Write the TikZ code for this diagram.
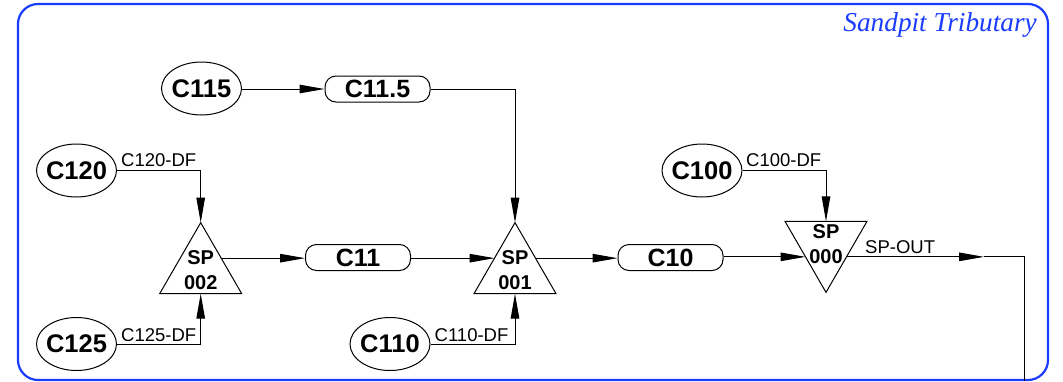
\documentclass[tikz,border=0pt]{standalone}
\usepackage{fontspec}
\setmainfont{Liberation Serif}
\newfontfamily\helv{Liberation Sans}
\usetikzlibrary{shapes.geometric,arrows.meta,calc}
\definecolor{frameblue}{RGB}{25,60,255}
\begin{document}
\begin{tikzpicture}[x=1pt,y=-1pt,
  basin/.style={ellipse,draw,line width=1pt,minimum width=80pt,minimum height=53pt,inner xsep=-8pt,inner ysep=0pt,font={\helv\bfseries\fontsize{25.5}{28}\selectfont}},
  reach/.style={rectangle,rounded corners=11pt,draw,line width=1pt,minimum width=105pt,minimum height=26pt,inner sep=0pt,font={\helv\bfseries\fontsize{25}{28}\selectfont}},
  junction/.style={regular polygon,regular polygon sides=3,draw,line width=1pt,minimum size=94.7pt,inner sep=0pt,outer sep=0pt},
  sptext/.style={align=center,inner sep=0pt,font={\helv\bfseries\fontsize{20}{25}\selectfont}},
  lbl/.style={inner sep=0pt,anchor=base west,font={\helv\fontsize{18.5}{20}\selectfont}},
  flow/.style={line width=1pt,-{Triangle[length=25pt,width=8.5pt]}},
  link/.style={line width=1pt},
]
\useasboundingbox (0,0) rectangle (1063,381);
% frame and title
\draw[frameblue,line width=2.2pt,rounded corners=20pt] (18,4) rectangle (1048,380);
\node[anchor=base east,inner sep=0pt,text=frameblue,font={\itshape\fontsize{27.3}{30}\selectfont}] (title) at (1037,31.7) {Sandpit Tributary};

% basins
\node[basin] (c115) at (201.5,88.5) {C115};
\node[basin] (c120) at (76.5,170.5) {C120};
\node[basin] (c125) at (76.5,344) {C125};
\node[basin] (c110) at (390,344) {C110};
\node[basin] (c100) at (702,170.5) {C100};

% reaches
\node[reach] (c115r) at (377.5,89) {C11.5};
\node[reach] (c11) at (358,257.5) {C11};
\node[reach] (c10) at (670.5,257.5) {C10};

% junctions
\node[junction] (sp002) at (200.7,270) {};
\node[junction] (sp001) at (515,270) {};
\node[junction,shape border rotate=180] (sp000) at (826,245) {};
\node[sptext] (sp002t) at (sp002) {SP\\002};
\node[sptext] (sp001t) at (sp001) {SP\\001};
\node[sptext] (sp000t) at ($(sp000)+(0,-1)$) {SP\\000};

% edge points of the triangles
\coordinate (sp002top) at (sp002.corner 1);
\coordinate (sp002bot) at ($(sp002.corner 2)!.5!(sp002.corner 3)$);
\coordinate (sp002r) at ($(sp002.corner 1)!.5!(sp002.corner 3)$);
\coordinate (sp001top) at (sp001.corner 1);
\coordinate (sp001bot) at ($(sp001.corner 2)!.5!(sp001.corner 3)$);
\coordinate (sp001l) at ($(sp001.corner 1)!.5!(sp001.corner 2)$);
\coordinate (sp001r) at ($(sp001.corner 1)!.5!(sp001.corner 3)$);
\coordinate (sp000top) at ($(sp000.corner 2)!.5!(sp000.corner 3)$);
\coordinate (sp000l) at ($(sp000.corner 1)!.5!(sp000.corner 3)$);
\coordinate (sp000r) at ($(sp000.corner 1)!.5!(sp000.corner 2)$);
\coordinate (outtip) at (984,257.7);
\coordinate (outend) at (1024,381);

% connectors
\draw[flow] (c115.east |- c115r.west) -- (c115r.west);
\draw[flow] (c115r.east) -| (sp001top);
\draw[flow] (c120.east) -| (sp002top);
\draw[flow] (c125.east) -| (sp002bot);
\draw[flow] (c110.east) -| (sp001bot);
\draw[flow] (c100.east) -| (sp000top);
\draw[flow] (sp002r) -- (sp002r -| c11.west);
\draw[flow] (c11.east |- sp001l) -- (sp001l);
\draw[flow] (sp001r) -- (sp001r -| c10.west);
\draw[flow] (c10.east |- sp000l) -- (sp000l);
\draw[flow] (sp000r) -- (sp000r -| outtip);
\draw[link] (sp000r -| outtip) -- (sp000r -| outend) -- (outend);

% labels
\node[lbl] (l120) at (121,166) {C120-DF};
\node[lbl] (l125) at (121,341) {C125-DF};
\node[lbl] (l110) at (434.5,341) {C110-DF};
\node[lbl] (l100) at (746,166) {C100-DF};
\node[lbl] (lout) at (865,253) {SP-OUT};
\end{tikzpicture}
\end{document}
